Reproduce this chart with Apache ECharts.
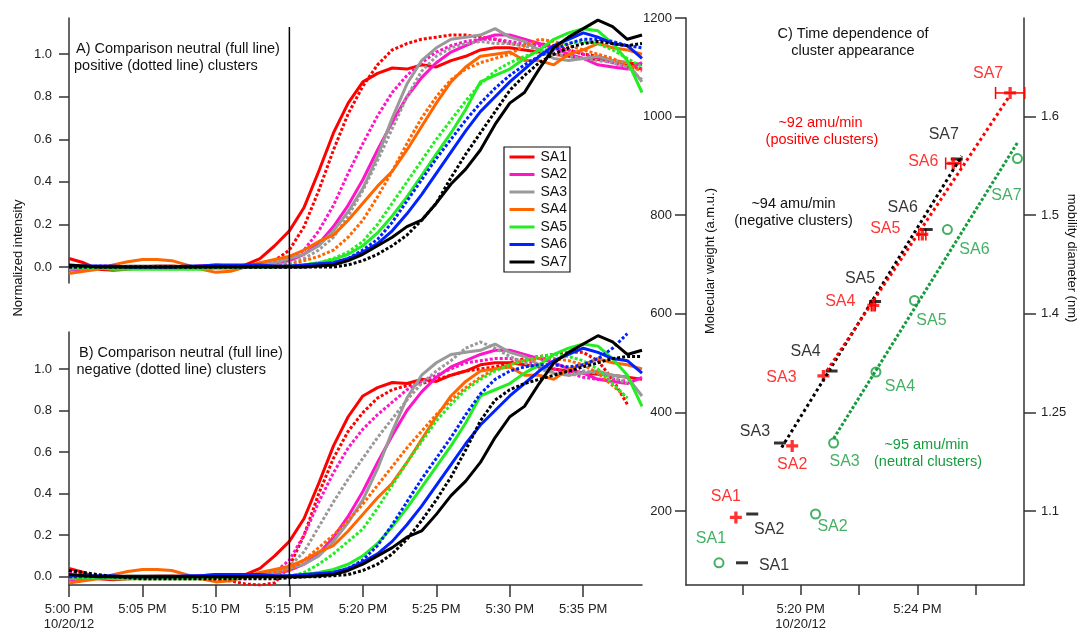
<!DOCTYPE html>
<html><head><meta charset="utf-8">
<script src="https://cdn.jsdelivr.net/npm/echarts@6.0.0/dist/echarts.min.js"></script>
<style>html,body{margin:0;padding:0;background:#fff}#c{width:1083px;height:632px}</style>
</head><body><div id="c"></div>
<script>
// ---------- DATA ----------
const minutes = [0,1,2,3,4,5,6,7,8,9,10,11,12,13,14,15,16,17,18,19,20,21,22,23,24,25,26,27,28,29,30,31,32,33,34,35,36,37,38,39];
const names = ['SA1','SA2','SA3','SA4','SA5','SA6','SA7'];

// neutral clusters (full lines, panels A and B)
const neutral1 = [0.04,0.02,-0.01,-0.015,-0.01,0.0,0.005,0.005,0.0,0.005, 0.0,0.0,0.01,0.04,0.1,0.17,0.28,0.45,0.63,0.77, 0.87,0.91,0.935,0.93,0.95,0.94,0.97,0.99,1.02,1.03, 1.03,1.02,1.01,1.0,0.99,0.98,0.975,0.97,0.96,0.95];
const neutral2 = [-0.015,-0.01,-0.005,0,0,0,0,0,0,0.005, 0.01,0.005,0.0,0.01,0.015,0.03,0.06,0.11,0.19,0.29, 0.41,0.55,0.68,0.80,0.89,0.96,1.01,1.04,1.07,1.09, 1.09,1.07,1.05,1.03,1.0,0.98,0.95,0.94,0.93,0.96];
const neutral3 = [-0.01,-0.005,0,0,0.005,0.005,0.005,0.005,0,0, -0.005,-0.005,0,0.01,0.02,0.04,0.06,0.1,0.17,0.26, 0.37,0.52,0.7,0.86,0.97,1.03,1.07,1.08,1.09,1.12, 1.08,1.06,1.02,0.98,0.97,0.98,0.99,0.97,0.96,0.87];
const neutral4 = [-0.03,-0.02,-0.01,0.01,0.025,0.035,0.035,0.03,0.01,-0.01, -0.025,-0.02,0,0.02,0.035,0.05,0.08,0.12,0.15,0.22, 0.3,0.38,0.45,0.55,0.66,0.77,0.87,0.94,0.99,1.0, 1.01,0.97,0.97,0.95,1.0,1.02,1.05,1.03,1.02,1.0];
const neutral5 = [0,-0.005,-0.005,-0.01,-0.01,-0.01,-0.01,-0.01,-0.01,-0.01, -0.005,-0.005,0,0,0,0.005,0.01,0.02,0.035,0.06, 0.1,0.16,0.24,0.33,0.43,0.53,0.63,0.74,0.87,0.9, 0.93,0.98,1.02,1.07,1.1,1.12,1.11,1.05,0.97,0.82];
const neutral6 = [0.005,0.005,0.005,0.005,0,0,0,0,0.005,0.005, 0.01,0.01,0.01,0.01,0.005,0.005,0.01,0.015,0.02,0.04, 0.07,0.11,0.17,0.25,0.34,0.44,0.54,0.64,0.73,0.8, 0.87,0.93,0.99,1.04,1.07,1.1,1.08,1.05,1.04,0.98];
const neutral7 = [0.01,0.005,0,0,0,0,0,0,0,0, 0,0,0,0,0,0,0,0.005,0.01,0.03, 0.06,0.1,0.14,0.19,0.22,0.3,0.39,0.46,0.55,0.67, 0.77,0.82,0.93,1.03,1.08,1.12,1.16,1.13,1.07,1.09];

// positive clusters (dotted lines, panel A)
const positive1 = [-0.01,-0.005,0,0,0,0,0,0,0,0, 0,0,0.005,0.01,0.03,0.08,0.19,0.36,0.55,0.72, 0.85,0.95,1.02,1.05,1.07,1.08,1.09,1.09,1.08,1.07, 1.05,1.04,1.05,1.04,1.02,1.0,0.99,0.97,0.95,0.93];
const positive2 = [-0.01,0,0.005,0.005,0,0,0,0,0,0, 0,0,0,0,0.01,0.03,0.08,0.17,0.29,0.44, 0.58,0.71,0.82,0.9,0.96,1.01,1.04,1.06,1.07,1.07, 1.06,1.05,1.04,1.03,1.02,1.0,0.98,0.96,0.94,0.93];
const positive3 = [0,0,0,0,0,0,0,0,0,0, 0,0,0,0.005,0.01,0.02,0.04,0.08,0.14,0.24, 0.36,0.5,0.65,0.8,0.92,0.99,1.03,1.05,1.06,1.05, 1.05,1.04,1.02,1.0,0.99,0.98,0.97,0.96,0.94,0.88];
const positive4 = [0,0,0,0,0,0,0,0,0,0, 0,0,0,0,0.005,0.01,0.03,0.05,0.08,0.14, 0.22,0.33,0.45,0.58,0.7,0.8,0.88,0.93,0.96,0.98, 1.0,1.04,1.07,1.06,1.04,1.02,1.0,0.98,0.95,0.92];
const positive5 = [0,0,0,0,0,0,0,0,0,0, 0,0,0,0,0,0,0.01,0.02,0.04,0.07, 0.12,0.2,0.3,0.4,0.5,0.6,0.69,0.78,0.86,0.92, 0.96,0.99,1.01,1.03,1.05,1.06,1.05,1.02,0.98,0.94];
const positive6 = [0,0,0,0,0,0,0,0,0,0, 0,0,0,0,0,0,0,0.01,0.02,0.04, 0.08,0.13,0.21,0.31,0.41,0.51,0.6,0.69,0.77,0.84, 0.9,0.95,0.99,1.02,1.05,1.07,1.07,1.06,1.04,1.03];
const positive7 = [0,0,0,0,0,0,0,0,0,0, 0,0,0,0,0,0,0,0,0,0.01, 0.03,0.06,0.1,0.15,0.22,0.3,0.42,0.53,0.63,0.73, 0.83,0.9,0.96,1.0,1.03,1.05,1.06,1.05,1.04,1.05];

// negative clusters (dotted lines, panel B)
const negative1 = [0.03,0.01,0,-0.005,-0.01,-0.01,-0.01,-0.01,-0.01,-0.01, -0.015,-0.02,-0.035,-0.04,-0.03,0.05,0.2,0.4,0.57,0.7, 0.79,0.86,0.9,0.92,0.93,0.95,0.97,0.99,1.0,1.01, 1.03,1.05,1.06,1.07,1.08,1.08,1.04,0.95,0.83,null];
const negative2 = [0.02,0.01,0.005,0,0,0,0,0,0,0, 0,-0.005,-0.01,-0.005,0.02,0.08,0.2,0.36,0.5,0.62, 0.71,0.78,0.84,0.9,0.94,0.97,1.0,1.03,1.04,1.05, 1.05,1.04,1.02,1.0,0.98,0.96,0.95,0.95,0.94,null];
const negative3 = [0.01,0,0,0,0,0,0,0,0,0, 0,0,0,0.01,0.02,0.05,0.12,0.24,0.36,0.47, 0.57,0.67,0.76,0.85,0.93,0.99,1.04,1.1,1.13,1.1, 1.06,1.03,1.0,0.98,0.97,0.99,0.98,0.96,0.93,null];
const negative4 = [0,0,0,0,0,0,0,0,0,0, 0,0,0,0.01,0.02,0.03,0.08,0.14,0.2,0.27, 0.35,0.44,0.53,0.62,0.7,0.78,0.85,0.91,0.96,1.0, 1.02,1.04,1.05,1.05,1.04,1.02,0.98,0.92,0.86,null];
const negative5 = [0,0,0,0,0,0,0,0,0,0, 0,0,0,0,0,0,0.02,0.06,0.11,0.17, 0.23,0.33,0.44,0.55,0.65,0.75,0.83,0.9,0.95,0.99, 1.02,1.04,1.06,1.07,1.06,1.04,1.0,0.93,0.86,null];
const negative6 = [0,0,0,0,0,0,0,0,0,0, 0,0,0,0,0,0,0,0.01,0.02,0.04, 0.08,0.15,0.25,0.36,0.47,0.57,0.67,0.78,0.88,0.95, 0.99,1.01,1.02,1.02,1.01,1.02,1.05,1.1,1.17,null];
const negative7 = [0.03,0.02,0.01,0,-0.005,-0.01,-0.01,-0.01,-0.01,-0.01, -0.01,-0.01,-0.01,-0.01,-0.01,-0.005,0,0,0.005,0.01, 0.03,0.06,0.11,0.18,0.27,0.37,0.48,0.61,0.75,0.85, 0.9,0.93,0.95,0.97,0.99,1.01,1.03,1.05,1.06,1.06];

// panel C: appearance time (minutes after 5:00 PM) vs molecular weight (amu)
const posTime = [17.78,19.71,20.78,22.49,24.17,25.23,27.18];
const posMass = [187,332,474,617,761,905,1048];
const posTimeErr = [0,0,0,0.07,0.12,0.26,0.5];
const negTime = [17.99,18.34,19.29,21.06,22.55,24.32,25.35];
const negMass = [95,194,338,484,625,771,914];
const neuTime = [17.2,20.51,21.13,22.58,23.9,25.03,27.43];
const neuMass = [95,194,338,482,627,771,915];
// linear fits (end points)
const fitPos = [[20.85,480],[27.15,1041]];
const fitNeg = [[19.35,329],[25.52,920]];
const fitNeu = [[21.13,347],[27.46,950]];

// ticks
const intensityTicks = [0,0.2,0.4,0.6,0.8,1.0];
const timeTicksAB = [0,5,10,15,20,25,30,35];
const timeTickLabelsAB = ['5:00 PM\n10/20/12','5:05 PM','5:10 PM','5:15 PM','5:20 PM','5:25 PM','5:30 PM','5:35 PM'];
const timeTicksC = [18,20,22,24,26];
const timeLabelTicksC = [20,24];
const timeTickLabelsC = ['5:20 PM\n10/20/12','5:24 PM'];
const massTicks = [200,400,600,800,1000,1200];
const diameterTickMass = [200,400,600,800,1000];
const diameterTickLabels = ['1.1','1.25','1.4','1.5','1.6'];
const markerTime = 15;

// ---------- STYLE / LAYOUT ----------
const FONT = '"Liberation Sans", Arial, Helvetica, sans-serif';
const colors = ['#ff0000','#ff14c8','#999999','#ff6600','#22ee22','#0022ff','#000000'];
const cRed = '#ff0000', cBlack = '#000000', cGreen = '#159c3c';
const axisCol = '#333';
const posLabelOff = [[-10,-21],[0,19],[-42,2],[-33,-4],[-37,-6],[-30,-2],[-22,-19]];
const negLabelOff = [[32,3],[17,16],[-25,-11],[-26,-19],[-15,-23],[-24,-22],[-13,-24]];
const neuLabelOff = [[-8,-24],[17,13],[11,19],[24,15],[17,20],[27,20],[-11,37]];

const neutral = [neutral1,neutral2,neutral3,neutral4,neutral5,neutral6,neutral7];
const positive = [positive1,positive2,positive3,positive4,positive5,positive6,positive7];
const negative = [negative1,negative2,negative3,negative4,negative5,negative6,negative7];

function pairs(arr){ const out=[]; minutes.forEach((m,i)=>{ if(arr[i]!==null && arr[i]!==undefined) out.push([m,arr[i]]); }); return out; }
function lineSeries(name, arr, color, dotted, xi, yi){
  return {type:'line', name, xAxisIndex:xi, yAxisIndex:yi, data:pairs(arr), symbol:'none', showSymbol:false,
    lineStyle:{color, width:3, type: dotted ? [3,2] : 'solid', cap:'butt'}, itemStyle:{color}, silent:true, animation:false};
}

const series = [];
for (let i=0;i<7;i++){
  series.push(lineSeries(names[i], neutral[i], colors[i], false, 0, 0));
  series.push(lineSeries(names[i]+' positive', positive[i], colors[i], true, 0, 0));
}
for (let i=0;i<7;i++){
  series.push(lineSeries(names[i], neutral[i], colors[i], false, 1, 1));
  series.push(lineSeries(names[i]+' negative', negative[i], colors[i], true, 1, 1));
}
// 5:15 PM reference line spanning both panels
series.push({type:'line', xAxisIndex:3, yAxisIndex:4, data:[[markerTime,0],[markerTime,1]], symbol:'none',
  lineStyle:{color:'#000', width:1.5}, silent:true, animation:false});

// panel C fits
series.push({type:'line', xAxisIndex:2, yAxisIndex:2, data:fitNeg, symbol:'none', silent:true, animation:false,
  lineStyle:{color:cBlack, width:3, type:[3,3], dashOffset:0}});
series.push({type:'line', xAxisIndex:2, yAxisIndex:2, data:fitPos, symbol:'none', silent:true, animation:false,
  lineStyle:{color:cRed, width:3, type:[3,3], dashOffset:3}});
series.push({type:'line', xAxisIndex:2, yAxisIndex:2, data:fitNeu, symbol:'none', silent:true, animation:false,
  lineStyle:{color:cGreen, width:3, type:[3,2]}});

// error bars for positive clusters
series.push({type:'custom', xAxisIndex:2, yAxisIndex:2, silent:true, animation:false, clip:false,
  data: posTime.map((t,i)=>[t,posMass[i],posTimeErr[i]]).filter(d=>d[2]>0),
  renderItem(params, api){
    const x=api.value(0), y=api.value(1), e=api.value(2);
    const a=api.coord([x-e,y]), b=api.coord([x+e,y]); const h=6;
    const st={stroke:cRed, lineWidth:1.5};
    return {type:'group', children:[
      {type:'line', shape:{x1:a[0],y1:a[1],x2:b[0],y2:b[1]}, style:st},
      {type:'line', shape:{x1:a[0],y1:a[1]-h,x2:a[0],y2:a[1]+h}, style:st},
      {type:'line', shape:{x1:b[0],y1:b[1]-h,x2:b[0],y2:b[1]+h}, style:st}
    ]};
  }});

function markerData(times, masses, offs, color){
  return times.map((t,i)=>({value:[t,masses[i]], name:names[i],
    label:{show:true, position:'inside', offset:offs[i], formatter:'{b}', color, fontSize:16, fontFamily:FONT}}));
}
series.push({type:'scatter', xAxisIndex:2, yAxisIndex:2, silent:true, animation:false,
  symbol:'rect', symbolSize:[12,3], itemStyle:{color:cBlack},
  data: markerData(negTime, negMass, negLabelOff, cBlack)});
series.push({type:'scatter', xAxisIndex:2, yAxisIndex:2, silent:true, animation:false,
  symbol:'emptyCircle', symbolSize:9, itemStyle:{color:cGreen, borderColor:cGreen, borderWidth:2.5},
  data: markerData(neuTime, neuMass, neuLabelOff, cGreen)});
series.push({type:'scatter', xAxisIndex:2, yAxisIndex:2, silent:true, animation:false,
  symbol:'path://M4,0H7V4H11V7H7V11H4V7H0V4H4Z', symbolSize:12, itemStyle:{color:cRed},
  data: markerData(posTime, posMass, posLabelOff, cRed)});

const axisLineStyle = {color:axisCol, width:1.5};
const labelStyle = {color:'#222', fontSize:13, fontFamily:FONT};

function txt(text, x, y, opts){
  return Object.assign({type:'text', x, y, silent:true, z:100,
    style:Object.assign({text, fill:'#111', fontSize:14.5, fontFamily:FONT, align:'left', verticalAlign:'middle',
      textAlign:'left', textVerticalAlign:'middle'}, (opts&&opts.style)||{})}, opts&&opts.rotation!==undefined?{rotation:opts.rotation}:{});
}
const center = {align:'center', textAlign:'center'};

const option = {
  backgroundColor:'#fff',
  animation:false,
  textStyle:{fontFamily:FONT},
  grid:[
    {left:69, top:18, width:573, height:265},
    {left:69, top:332, width:573, height:254},
    {left:686, top:18, width:338, height:568},
    {left:69, top:27, width:573, height:559}
  ],
  legend:{
    data:names, orient:'vertical', left:504, top:147, itemWidth:25, itemHeight:14, itemGap:3.5,
    padding:[3,3,3,4], borderColor:'#111', borderWidth:1.2, selectedMode:false,
    itemStyle:{opacity:0}, lineStyle:{width:3},
    textStyle:{fontSize:14, fontFamily:FONT, color:'#111', padding:[0,0,0,1]}
  },
  xAxis:[
    {gridIndex:0, type:'value', min:0, max:39, show:false},
    {gridIndex:1, type:'value', min:0, max:39,
      axisLine:{show:true, onZero:false, lineStyle:axisLineStyle},
      axisTick:{show:true, customValues:timeTicksAB, length:12, lineStyle:axisLineStyle},
      axisLabel:{customValues:timeTicksAB, margin:17, lineHeight:15, ...labelStyle,
        formatter:v=>timeTickLabelsAB[timeTicksAB.indexOf(v)]},
      splitLine:{show:false}},
    {gridIndex:2, type:'value', min:16.07, max:27.655,
      axisLine:{show:true, onZero:false, lineStyle:axisLineStyle},
      axisTick:{show:true, customValues:timeTicksC, length:10, lineStyle:axisLineStyle},
      axisLabel:{customValues:timeLabelTicksC, margin:17, lineHeight:15, ...labelStyle,
        formatter:v=>timeTickLabelsC[timeLabelTicksC.indexOf(v)]},
      splitLine:{show:false}},
    {gridIndex:3, type:'value', min:0, max:39, show:false}
  ],
  yAxis:[
    {gridIndex:0, type:'value', min:-0.075, max:1.17,
      axisLine:{show:true, onZero:false, lineStyle:axisLineStyle},
      axisTick:{show:true, customValues:intensityTicks, length:10, lineStyle:axisLineStyle},
      axisLabel:{customValues:intensityTicks, margin:17, ...labelStyle, formatter:v=>v.toFixed(1)},
      splitLine:{show:false}},
    {gridIndex:1, type:'value', min:-0.04, max:1.178,
      axisLine:{show:true, onZero:false, lineStyle:axisLineStyle},
      axisTick:{show:true, customValues:intensityTicks, length:10, lineStyle:axisLineStyle},
      axisLabel:{customValues:intensityTicks, margin:17, ...labelStyle, formatter:v=>v.toFixed(1)},
      splitLine:{show:false}},
    {gridIndex:2, type:'value', min:50, max:1200,
      axisLine:{show:true, onZero:false, lineStyle:axisLineStyle},
      axisTick:{show:true, customValues:massTicks, length:11, lineStyle:axisLineStyle},
      axisLabel:{customValues:massTicks, margin:14, ...labelStyle, formatter:v=>String(v)},
      splitLine:{show:false}},
    {gridIndex:2, type:'value', min:50, max:1200, position:'right',
      axisLine:{show:true, onZero:false, lineStyle:axisLineStyle},
      axisTick:{show:true, customValues:diameterTickMass, length:12, lineStyle:axisLineStyle},
      axisLabel:{customValues:diameterTickMass, margin:17, ...labelStyle,
        formatter:v=>diameterTickLabels[diameterTickMass.indexOf(v)]},
      splitLine:{show:false}},
    {gridIndex:3, type:'value', min:0, max:1, show:false}
  ],
  graphic:[
    txt('Normalized intensity', 18, 258, {rotation:Math.PI/2, style:{fontSize:13, ...center}}),
    txt('Molecular weight (a.m.u.)', 710, 261, {rotation:Math.PI/2, style:{fontSize:13, ...center}}),
    txt('mobility diameter (nm)', 1072, 258, {rotation:-Math.PI/2, style:{fontSize:13, ...center}}),
    txt('A) Comparison neutral (full line)', 76, 48.5),
    txt('positive (dotted line) clusters', 74, 65.5),
    txt('B) Comparison neutral (full line)', 79, 353),
    txt('negative (dotted line) clusters', 76.5, 369.5),
    txt('C) Time dependence of', 853, 33.5, {style:center}),
    txt('cluster appearance', 853, 50.5, {style:center}),
    txt('~92 amu/min', 820.5, 122.5, {style:{fill:cRed, ...center}}),
    txt('(positive clusters)', 822, 139.5, {style:{fill:cRed, ...center}}),
    txt('~94 amu/min', 793.5, 203.5, {style:center}),
    txt('(negative clusters)', 793.5, 220.5, {style:center}),
    txt('~95 amu/min', 926.5, 444.5, {style:{fill:cGreen, ...center}}),
    txt('(neutral clusters)', 928, 461.5, {style:{fill:cGreen, ...center}})
  ],
  series
};
const chart = echarts.init(document.getElementById('c'), null, {renderer:'canvas'});
chart.setOption(option);
</script></body></html>
